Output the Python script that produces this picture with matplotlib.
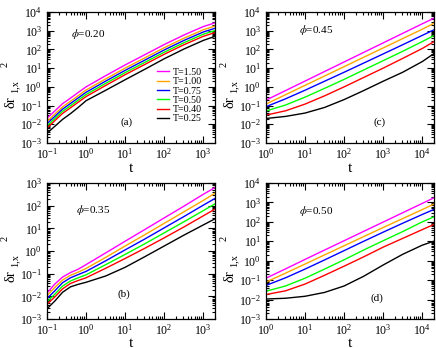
import matplotlib
matplotlib.use("Agg")
import matplotlib.pyplot as plt
from matplotlib.ticker import LogLocator, LogFormatterMathtext, NullFormatter

plt.rcParams['font.family'] = ['Liberation Serif', 'DejaVu Serif']
plt.rcParams['mathtext.fontset'] = 'stix'

# ---------------- data ----------------
labels = ['T=1.50', 'T=1.00', 'T=0.75', 'T=0.50', 'T=0.40', 'T=0.25']
colors = ['#ff00ff', '#ffa500', '#0000ff', '#00ff00', '#ff0000', '#000000']

t_short = [0.1, 0.16, 0.25, 0.4, 0.63, 1, 3.2, 10, 32, 100, 320, 1000, 2000]
t_long = [1, 3.16, 10, 31.6, 100, 316, 1000, 3160, 10000, 20000]

# panel (a) phi=0.20
a_T150 = [0.0209, 0.0525, 0.126, 0.251, 0.501, 1.0, 3.98, 14.8, 52.5, 182, 589, 1660, 2630]
a_T100 = [0.0141, 0.0355, 0.0851, 0.17, 0.339, 0.676, 2.69, 10, 35.5, 123, 398, 1120, 1780]
a_T075 = [0.0107, 0.0269, 0.0646, 0.129, 0.257, 0.513, 2.04, 7.59, 26.9, 93.3, 302, 851, 1350]
a_T050 = [0.00813, 0.0204, 0.049, 0.0977, 0.195, 0.389, 1.55, 5.75, 20.4, 70.8, 229, 646, 1020]
a_T040 = [0.0063, 0.0158, 0.038, 0.0759, 0.151, 0.302, 1.2, 4.47, 15.8, 55, 178, 501, 794]
a_T025 = [0.00331, 0.00794, 0.0182, 0.0372, 0.0794, 0.182, 0.661, 2.4, 8.71, 31.6, 105, 302, 501]

# panel (b) phi=0.35
b_T150 = [0.0141, 0.0355, 0.0708, 0.112, 0.158, 0.251, 0.83, 2.7, 8.9, 28.8, 95, 316, 630]
b_T100 = [0.0107, 0.0251, 0.0525, 0.0851, 0.117, 0.17, 0.525, 1.66, 5.25, 16.6, 53.7, 170, 355]
b_T075 = [0.00794, 0.0178, 0.0398, 0.066, 0.0912, 0.126, 0.372, 1.12, 3.39, 10.5, 33.1, 105, 209]
b_T050 = [0.00575, 0.0126, 0.0282, 0.0479, 0.066, 0.0891, 0.251, 0.708, 2.09, 6.31, 19.5, 60.3, 120]
b_T040 = [0.00447, 0.00955, 0.0214, 0.0372, 0.0501, 0.066, 0.174, 0.468, 1.32, 3.8, 11.5, 35.5, 70.8]
b_T025 = [0.00282, 0.0063, 0.0151, 0.0263, 0.0339, 0.0417, 0.0794, 0.191, 0.562, 1.66, 5.01, 14.1, 26.3]

# panel (c) phi=0.45
c_T150 = [0.195, 0.631, 2.04, 6.61, 21.4, 69.2, 224, 724, 2340, 4680]
c_T100 = [0.12, 0.38, 1.2, 3.8, 12, 38, 120, 380, 1200, 2510]
c_T075 = [0.0871, 0.229, 0.661, 2.0, 6.03, 18.6, 57.5, 178, 562, 1120]
c_T050 = [0.0513, 0.107, 0.282, 0.832, 2.51, 7.94, 25.1, 79.4, 263, 550]
c_T040 = [0.0309, 0.0525, 0.12, 0.331, 1.0, 3.16, 10, 33.1, 112, 263]
c_T025 = [0.0204, 0.0263, 0.0398, 0.0794, 0.209, 0.631, 2.0, 6.03, 22.4, 60.3]

# panel (d) phi=0.50
d_T150 = [0.126, 0.38, 1.17, 3.55, 10.7, 32.4, 97.7, 295, 891, 1740]
d_T100 = [0.0794, 0.229, 0.676, 2.0, 5.89, 17.4, 51.3, 148, 427, 832]
d_T075 = [0.0537, 0.132, 0.372, 1.1, 3.31, 10, 29.5, 85.1, 240, 437]
d_T050 = [0.0269, 0.0501, 0.126, 0.372, 1.12, 3.55, 10.7, 31.6, 100, 182]
d_T040 = [0.0182, 0.0282, 0.0631, 0.178, 0.525, 1.58, 5.01, 14.1, 39.8, 74.1]
d_T025 = [0.0107, 0.0117, 0.0148, 0.0234, 0.0501, 0.158, 0.603, 2.14, 6.31, 10.2]

panels = [
    dict(pos=[0.1078, 0.5891, 0.3853, 0.3764], t=t_short,
         ys=[a_T150, a_T100, a_T075, a_T050, a_T040, a_T025],
         xlim=(0.1, 2000), ylim=(1e-3, 1e4), phi='0.20', tag='(a)',
         phipos=(0.14, 0.83), tagpos=(0.473, 0.16), legend=True, xlpad=0),
    dict(pos=[0.1078, 0.0833, 0.3853, 0.3908], t=t_short,
         ys=[b_T150, b_T100, b_T075, b_T050, b_T040, b_T025],
         xlim=(0.1, 2000), ylim=(1e-3, 1e3), phi='0.35', tag='(b)',
         phipos=(0.175, 0.80), tagpos=(0.455, 0.184), legend=False, xlpad=-0.8),
    dict(pos=[0.6101, 0.5891, 0.3853, 0.3764], t=t_long,
         ys=[c_T150, c_T100, c_T075, c_T050, c_T040, c_T025],
         xlim=(1, 2e4), ylim=(1e-3, 1e4), phi='0.45', tag='(c)',
         phipos=(0.195, 0.863), tagpos=(0.676, 0.16), legend=False, xlpad=0),
    dict(pos=[0.6101, 0.0833, 0.3853, 0.3908], t=t_long,
         ys=[d_T150, d_T100, d_T075, d_T050, d_T040, d_T025],
         xlim=(1, 2e4), ylim=(1e-3, 1e4), phi='0.50', tag='(d)',
         phipos=(0.195, 0.794), tagpos=(0.66, 0.154), legend=False, xlpad=-0.8),
]

W, H = 436, 348
fig = plt.figure(figsize=(W / 100, H / 100), dpi=100)

for p in panels:
    ax = fig.add_axes(p['pos'])
    for y, c, lab in zip(p['ys'], colors, labels):
        ax.plot(p['t'], y, color=c, lw=1.0, label=lab)
    ax.set_xscale('log')
    ax.set_yscale('log')
    ax.set_xlim(*p['xlim'])
    ax.set_ylim(*p['ylim'])
    for axis in (ax.xaxis, ax.yaxis):
        axis.set_major_locator(LogLocator(base=10, numticks=30))
        axis.set_minor_locator(LogLocator(base=10, subs=range(2, 10), numticks=300))
        axis.set_major_formatter(LogFormatterMathtext())
        axis.set_minor_formatter(NullFormatter())
    ax.tick_params(which='both', direction='in', top=True, right=True,
                   labelsize=8.5, width=0.8)
    ax.tick_params(which='major', length=5)
    ax.tick_params(which='minor', length=2.5)
    ax.tick_params(axis='x', pad=3)
    for s in ax.spines.values():
        s.set_linewidth(0.9)
    ax.set_xlabel('t', fontsize=11, labelpad=p['xlpad'])

    # y label: "δr" with subscript "1,x" and a raised "2", as in the reference
    wpx = p['pos'][2] * W
    hpx = p['pos'][3] * H
    def fx(dx):
        return dx / wpx
    def fy(dy):
        return 0.5 - dy / hpx
    ax.text(fx(-36), fy(25), 'δr', transform=ax.transAxes, rotation=90,
            ha='center', va='center', fontsize=10.5)
    ax.text(fx(-32), fy(9), '1,x', transform=ax.transAxes, rotation=90,
            ha='center', va='center', fontsize=7.5)
    ax.text(fx(-42), fy(-13), '2', transform=ax.transAxes, rotation=90,
            ha='center', va='center', fontsize=7.5)

    ax.text(p['phipos'][0], p['phipos'][1], r'$\phi$=' + p['phi'],
            transform=ax.transAxes, fontsize=8, va='center', ha='left')
    ax.text(p['tagpos'][0], p['tagpos'][1], p['tag'],
            transform=ax.transAxes, fontsize=8, va='center', ha='center')
    if p['legend']:
        ax.legend(loc='upper left', bbox_to_anchor=(0.655, 0.573), frameon=False,
                  fontsize=7.2, handlelength=1.2, handletextpad=0.35,
                  labelspacing=0.03, borderpad=0, borderaxespad=0)

fig.savefig('out.png', dpi=100)
